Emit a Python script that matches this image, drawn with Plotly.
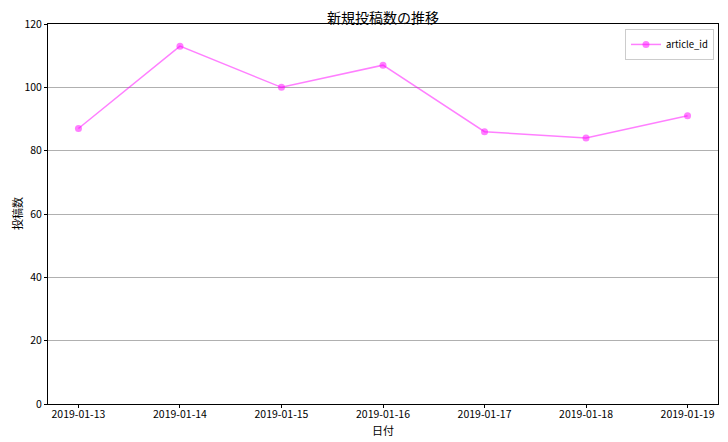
import plotly.graph_objects as go

dates = ["2019-01-13", "2019-01-14", "2019-01-15", "2019-01-16", "2019-01-17", "2019-01-18", "2019-01-19"]
article_id = [87, 113, 100, 107, 86, 84, 91]
y_ticks = [0, 20, 40, 60, 80, 100, 120]

font = "Noto Sans CJK JP, DejaVu Sans, sans-serif"

fig = go.Figure()
fig.add_trace(go.Scatter(
    x=dates, y=article_id, mode="lines+markers", name="article_id",
    line=dict(color="rgba(255,0,255,0.5)", width=1.5),
    marker=dict(color="rgba(255,0,255,0.5)", size=7),
    showlegend=True,
))

# page body has an 8px margin, so the figure is sized/offset to compensate
fig.update_layout(
    width=720, height=434,
    margin=dict(l=40, r=10, t=16, b=38),
    paper_bgcolor="white", plot_bgcolor="white",
    font=dict(family=font, size=10.5, color="black"),
    title=dict(text="新規投稿数の推移", x=(383 - 8) / 720, xanchor="center",
               y=1 - (18 - 8) / 434, yanchor="middle",
               font=dict(size=14, family=font)),
    showlegend=True,
    legend=dict(x=0.994, y=0.987, xanchor="right", yanchor="top",
                bordercolor="#cccccc", borderwidth=1, bgcolor="white",
                font=dict(size=9.5), itemwidth=30, tracegroupgap=0),
    xaxis=dict(
        type="category", range=[-0.3, 6.3], automargin=False,
        showline=True, linecolor="black", linewidth=1, mirror=True,
        ticks="outside", ticklen=3, tickcolor="black",
        showgrid=False, zeroline=False, ticklabelstandoff=-3,
    ),
    yaxis=dict(
        range=[0, 120], tickvals=y_ticks, automargin=False,
        showline=True, linecolor="black", linewidth=1, mirror=True,
        ticks="outside", ticklen=3, tickcolor="black",
        showgrid=True, gridcolor="#b0b0b0", gridwidth=1, zeroline=False,
    ),
    annotations=[
        dict(text="日付", xref="paper", yref="paper", x=0.5, y=-26 / 380,
             xanchor="center", yanchor="middle", showarrow=False, font=dict(size=11)),
        dict(text="投稿数", xref="paper", yref="paper", x=-31 / 670, y=0.5,
             xanchor="center", yanchor="middle", textangle=-90, showarrow=False,
             font=dict(size=11)),
    ],
)

fig.write_html("out.html")
